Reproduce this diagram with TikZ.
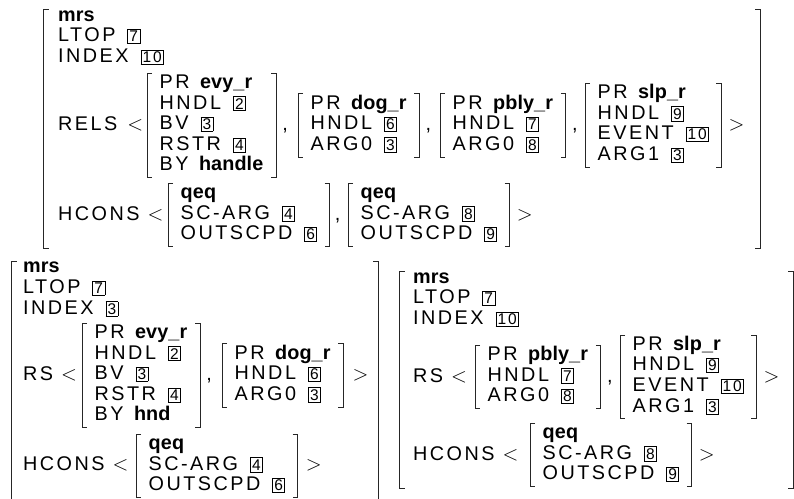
\documentclass[tikz,border=0pt]{standalone}
\usepackage{fontspec}
\setmainfont[LetterSpace=12.5, BoldFeatures={LetterSpace=0.5}]{Liberation Sans}
\usetikzlibrary{fit}
% boxed tag and a stack of feature lines
\newcommand{\tg}[1]{\hspace{4pt}{\setlength{\fboxsep}{1.4pt}\setlength{\fboxrule}{0.6pt}\fbox{\fontsize{15.5}{15.5}\selectfont #1}}\hspace{3pt}}
\newcommand{\lines}[1]{\begin{tabular}{@{}l@{}}#1\end{tabular}}

\begin{document}
\begin{tikzpicture}[x=1pt, y=-1pt,
      font=\fontsize{19.8}{20.6}\selectfont,
      rows/.style={inner sep=0pt, anchor=north west},
      avm/.style={inner xsep=12.5pt, inner ysep=0.5pt, anchor=west},
      outer/.style={inner sep=0pt},
      lbl/.style={inner sep=0pt, anchor=base west},
      brk/.style={line width=0.9pt, black!85},
    ]
    \useasboundingbox (0,0) rectangle (794,498);
    % --- top structure ------------------------------------------------
    \node[rows] (hdrA) at (58,6.6) {\lines{\textbf{mrs}\\ LTOP \tg{7}\\ INDEX \tg{10}}};
    \node[lbl] (relsA) at (58,130) {RELS\hspace{10pt}$<$};
    \node[avm] (evyA) at (147,125.5)
      {\lines{PR \textbf{evy\_r}\\ HNDL \tg{2}\\ BV \tg{3}\\ RSTR \tg{4}\\ BY \textbf{handle}}};
    \node[avm] (dogA) at (298,125.5) {\lines{PR \textbf{dog\_r}\\ HNDL \tg{6}\\ ARG0 \tg{3}}};
    \node[avm] (pblyA) at (440,125.5) {\lines{PR \textbf{pbly\_r}\\ HNDL \tg{7}\\ ARG0 \tg{8}}};
    \node[avm] (slpA) at (585,125.5)
      {\lines{PR \textbf{slp\_r}\\ HNDL \tg{9}\\ EVENT \tg{10}\\ ARG1 \tg{3}}};
    \node[lbl] (hconsA) at (58,220) {HCONS\hspace{8pt}$<$};
    \node[avm] (qeqA1) at (168,215) {\lines{\textbf{qeq}\\ SC-ARG \tg{4}\\ OUTSCPD \tg{6}}};
    \node[avm] (qeqA2) at (348,215) {\lines{\textbf{qeq}\\ SC-ARG \tg{8}\\ OUTSCPD \tg{9}}};
    \node[outer, fit={(44,10) (760,248)}] (avmA) {};
    \node[lbl] (cA1) at ([xshift=6pt]evyA.east |- relsA.base) {,};
    \node[lbl] (cA2) at ([xshift=6pt]dogA.east |- relsA.base) {,};
    \node[lbl] (cA3) at ([xshift=6pt]pblyA.east |- relsA.base) {,};
    \node[lbl] (gtA1) at ([xshift=7pt]slpA.east |- relsA.base) {$>$};
    \node[lbl] (cA4) at ([xshift=5pt]qeqA1.east |- hconsA.base) {,};
    \node[lbl] (gtA2) at ([xshift=7pt]qeqA2.east |- hconsA.base) {$>$};
    % --- lower left structure -----------------------------------------
    \node[rows] (hdrB) at (23,258.3) {\lines{\textbf{mrs}\\ LTOP \tg{7}\\ INDEX \tg{3}}};
    \node[lbl] (rsB) at (23,380) {RS\hspace{8pt}$<$};
    \node[avm] (evyB) at (82,375.5)
      {\lines{PR \textbf{evy\_r}\\ HNDL \tg{2}\\ BV \tg{3}\\ RSTR \tg{4}\\ BY \textbf{hnd}}};
    \node[avm] (dogB) at (222,375.5) {\lines{PR \textbf{dog\_r}\\ HNDL \tg{6}\\ ARG0 \tg{3}}};
    \node[lbl] (hconsB) at (23,470) {HCONS\hspace{8pt}$<$};
    \node[avm] (qeqB) at (136,466) {\lines{\textbf{qeq}\\ SC-ARG \tg{4}\\ OUTSCPD \tg{6}}};
    \node[outer, fit={(12,262) (378,500)}] (avmB) {};
    \node[lbl] (cB1) at ([xshift=6pt]evyB.east |- rsB.base) {,};
    \node[lbl] (gtB1) at ([xshift=9pt]dogB.east |- rsB.base) {$>$};
    \node[lbl] (gtB2) at ([xshift=8pt]qeqB.east |- hconsB.base) {$>$};
    % --- lower right structure ----------------------------------------
    \node[rows] (hdrC) at (413,268.6) {\lines{\textbf{mrs}\\ LTOP \tg{7}\\ INDEX \tg{10}}};
    \node[lbl] (rsC) at (413,382) {RS\hspace{8pt}$<$};
    \node[avm] (pblyC) at (475,377) {\lines{PR \textbf{pbly\_r}\\ HNDL \tg{7}\\ ARG0 \tg{8}}};
    \node[avm] (slpC) at (620,377)
      {\lines{PR \textbf{slp\_r}\\ HNDL \tg{9}\\ EVENT \tg{10}\\ ARG1 \tg{3}}};
    \node[lbl] (hconsC) at (413,460) {HCONS\hspace{8pt}$<$};
    \node[avm] (qeqC) at (530,455) {\lines{\textbf{qeq}\\ SC-ARG \tg{8}\\ OUTSCPD \tg{9}}};
    \node[outer, fit={(400,272) (793,488)}] (avmC) {};
    \node[lbl] (cC1) at ([xshift=6pt]pblyC.east |- rsC.base) {,};
    \node[lbl] (gtC1) at ([xshift=7pt]slpC.east |- rsC.base) {$>$};
    \node[lbl] (gtC2) at ([xshift=7pt]qeqC.east |- hconsC.base) {$>$};
    % --- square brackets round every structure ------------------------
    \foreach \n in {evyA,dogA,pblyA,slpA,qeqA1,qeqA2,avmA,
                    evyB,dogB,qeqB,avmB,pblyC,slpC,qeqC,avmC} {
      \draw[brk] ([xshift=5pt]\n.north west) -- (\n.north west)
        -- (\n.south west) -- ([xshift=5pt]\n.south west);
      \draw[brk] ([xshift=-5pt]\n.north east) -- (\n.north east)
        -- (\n.south east) -- ([xshift=-5pt]\n.south east);
    }
  \end{tikzpicture}
\end{document}
